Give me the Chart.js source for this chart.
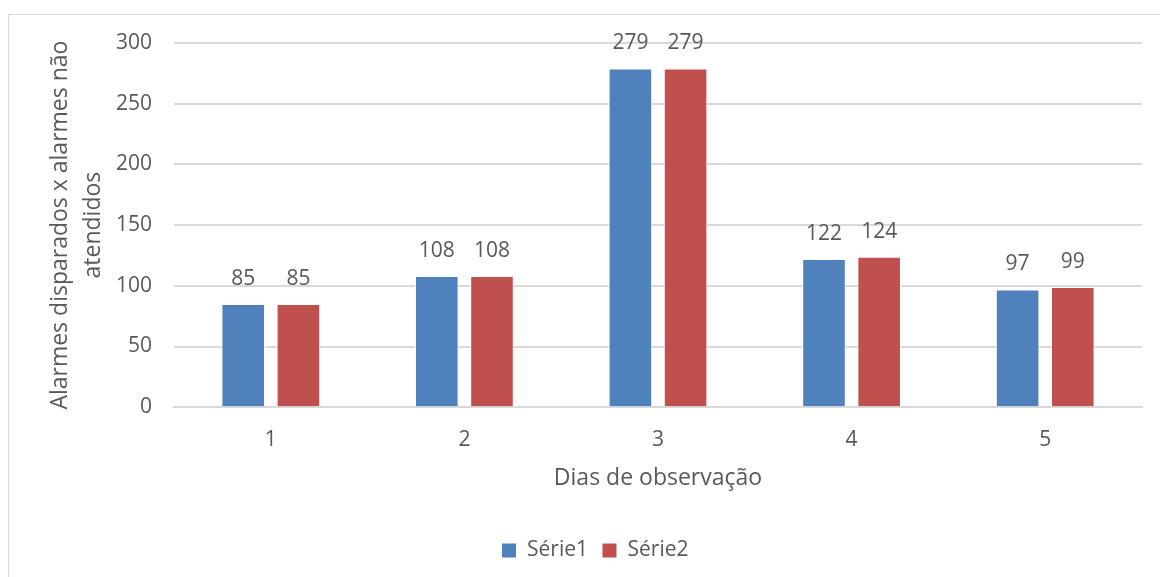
<!DOCTYPE html>
<html>
<head>
<meta charset="utf-8">
<script src="https://cdn.jsdelivr.net/npm/chart.js@4"></script>
<style>
  html, body { margin: 0; padding: 0; background: #fff; }
  #wrap { position: absolute; left: 0; top: 0; width: 1160px; height: 577px; }
</style>
</head>
<body>
<div id="wrap"><canvas id="chart" width="1160" height="577"></canvas></div>
<script>
const days = ["1", "2", "3", "4", "5"];
const serie1 = [85, 108, 279, 122, 97];
const serie2 = [85, 108, 279, 124, 99];
const yTicks = [0, 50, 100, 150, 200, 250, 300];

const textColor = "#595959";
const fontFamily = "'Open Sans', sans-serif";

// border round the chart, like the office chart frame
const framePlugin = {
  id: "frame",
  beforeDraw(chart) {
    const c = chart.ctx;
    c.save();
    c.fillStyle = "#fff";
    c.fillRect(0, 0, chart.width, chart.height);
    c.strokeStyle = "#d9d9d9";
    c.lineWidth = 1;
    c.strokeRect(8.5, 14.5, chart.width + 10, chart.height + 10);
    c.restore();
  },
  // legend sits a little right of the plot centre in the original
  afterLayout(chart) {
    chart.legend.left += 24;
    chart.legend.right += 24;
  }
};

// value labels above bars
const labelPlugin = {
  id: "barLabels",
  afterDatasetsDraw(chart) {
    const c = chart.ctx;
    c.save();
    c.font = "21px " + fontFamily;
    c.fillStyle = textColor;
    c.textAlign = "center";
    c.textBaseline = "middle";
    chart.data.datasets.forEach((ds, i) => {
      chart.getDatasetMeta(i).data.forEach((bar, j) => {
        c.fillText(ds.data[j], bar.x, bar.y - 25);
      });
    });
    c.restore();
  }
};

new Chart(document.getElementById("chart"), {
  type: "bar",
  data: {
    labels: days,
    datasets: [
      { label: "Série1", data: serie1, backgroundColor: "#4F81BD", borderColor: "#ffffff", borderWidth: 1 },
      { label: "Série2", data: serie2, backgroundColor: "#C0504D", borderColor: "#ffffff", borderWidth: 1 }
    ]
  },
  options: {
    responsive: false,
    animation: false,
    layout: { padding: { left: 0, right: 18, top: 43, bottom: 6 } },
    datasets: { bar: { categoryPercentage: 0.57, barPercentage: 0.79 } },
    plugins: {
      legend: {
        position: "bottom",
        labels: { color: textColor, font: { family: fontFamily, size: 21 }, boxWidth: 15, boxHeight: 15, padding: 14 }
      },
      tooltip: { enabled: false }
    },
    scales: {
      x: {
        grid: { display: false, drawTicks: false },
        border: { color: "#d9d9d9", width: 2 },
        ticks: { color: textColor, font: { family: fontFamily, size: 21 }, padding: 20 },
        title: { display: true, text: "Dias de observação", color: textColor, font: { family: fontFamily, size: 23 }, padding: { top: -8, bottom: 34 } }
      },
      y: {
        min: 0, max: 300,
        afterBuildTicks: (s) => { s.ticks = yTicks.map(v => ({ value: v })); },
        afterFit: (s) => { s.width = 174; },
        grid: { color: "#d9d9d9", lineWidth: 2, drawTicks: false },
        border: { display: false },
        ticks: { color: textColor, font: { family: fontFamily, size: 21 }, padding: 22 },
        title: {
          display: true,
          text: ["Alarmes disparados x alarmes não", "atendidos"],
          color: textColor,
          font: { family: fontFamily, size: 23, lineHeight: 1.43 },
          padding: { top: 44, bottom: 0 }
        }
      }
    }
  },
  plugins: [framePlugin, labelPlugin]
});
</script>
</body>
</html>
